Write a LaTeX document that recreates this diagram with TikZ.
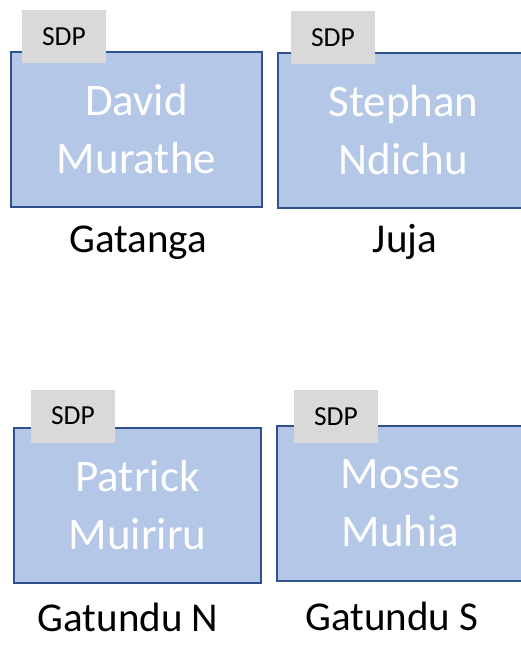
\documentclass[tikz,border=0pt]{standalone}
\usepackage{fontspec}
\setmainfont{Carlito}
\usepackage{xcolor}
\usetikzlibrary{positioning}

\definecolor{siteblue}{HTML}{B4C7E7}
\definecolor{siteedge}{HTML}{2F528F}
\definecolor{tabgray}{HTML}{D9D9D9}

\tikzset{
  site/.style={draw=siteedge, line width=2pt, fill=siteblue, text=white,
    minimum width=#1, minimum height=155pt, inner sep=0pt, align=center,
    font=\fontsize{45}{58}\selectfont},
  tab/.style={fill=tabgray, minimum width=84pt, minimum height=53pt,
    inner sep=0pt, font=\fontsize{27.5}{32}\selectfont},
  place/.style={anchor=base, inner sep=0pt, font=\fontsize{41}{48}\selectfont}
}

\begin{document}
\begin{tikzpicture}[x=1pt, y=-1pt]
    \clip (0,0) rectangle (521,648);

    % Top row
    \node[site=251pt] (david) at (136.5,129.5) {David\\Murathe};
    \node[site=251pt] (stephan) at (403.5,130) {Stephan\\Ndichu};
    \node[tab] (tabdavid) at (64,36.5) {SDP};
    \node[tab] (tabstephan) at (333,37.5) {SDP};
    \node[place] (gatanga) at (138,252) {Gatanga};
    \node[place] (juja) at (405,252) {Juja};

    % Bottom row
    \node[site=247pt] (patrick) at (137.5,505) {Patrick\\Muiriru};
    \node[site=247pt] (moses) at (400.5,503.5) {Moses\\Muhia};
    \node[tab] (tabpatrick) at (73,416) {SDP};
    \node[tab] (tabmoses) at (336,416.5) {SDP};
    \node[place] (gatundun) at (128,631) {Gatundu N};
    \node[place] (gatundus) at (392,630) {Gatundu S};
\end{tikzpicture}
\end{document}
